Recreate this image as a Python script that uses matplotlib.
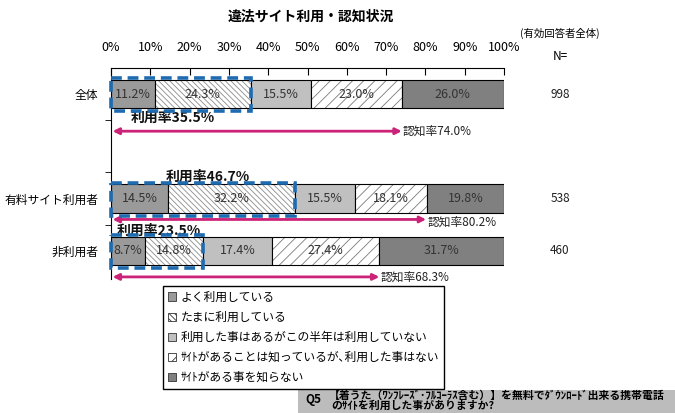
import matplotlib
matplotlib.use('Agg')
import matplotlib.pyplot as plt
from matplotlib.patches import Rectangle, Patch

plt.rcParams['font.family'] = ['Noto Sans CJK JP', 'DejaVu Sans']
plt.rcParams['hatch.linewidth'] = 0.6

# data
groups = ['全体', '有料サイト利用者', '非利用者']
n_counts = [998, 538, 460]
series = ['よく利用している',
          'たまに利用している',
          '利用した事はあるがこの半年は利用していない',
          'ｻｲﾄがあることは知っているが､利用した事はない',
          'ｻｲﾄがある事を知らない']
often = [11.2, 14.5, 8.7]
sometimes = [24.3, 32.2, 14.8]
lapsed = [15.5, 15.5, 17.4]
aware_only = [23.0, 18.1, 27.4]
unaware = [26.0, 19.8, 31.7]
xticks = [0, 10, 20, 30, 40, 50, 60, 70, 80, 90, 100]

# layout (slot 1 is an empty row in the original sheet)
slots = [0, 2, 3]
bar_h = 0.54
styles = [
    dict(fc='#9a9a9a', hc='#9a9a9a', hatch=None),
    dict(fc='white', hc='#8c8c8c', hatch='\\\\\\\\\\\\'),
    dict(fc='#c0c0c0', hc='#c0c0c0', hatch=None),
    dict(fc='white', hc='#7a7a7a', hatch='///'),
    dict(fc='#808080', hc='#808080', hatch=None),
]
use_lbl_off = [(5.0, 0.46), (13.8, -0.42), (1.5, -0.38)]
arrow_off = [0.71, 0.40, 0.50]
aware_lbl_dy = [0.0, 0.06, 0.0]
blue = '#1f6bb0'
magenta = '#cc2277'

fig = plt.figure(figsize=(6.75, 4.13), dpi=100)
ax = fig.add_axes([111/675, 1-279/413, (504-111)/675, (279-68)/413])
ax.set_xlim(0, 100)
ax.set_ylim(3.54, -0.5)

all_vals = [often, sometimes, lapsed, aware_only, unaware]
left = [0.0, 0.0, 0.0]
for vals, st in zip(all_vals, styles):
    ax.barh(slots, vals, left=left, height=bar_h, color=st['fc'],
            edgecolor=st['hc'], hatch=st['hatch'], linewidth=0)
    ax.barh(slots, vals, left=left, height=bar_h, fill=False,
            edgecolor='black', linewidth=0.8)
    for y, l, v in zip(slots, left, vals):
        ax.text(l + v/2, y, f'{v:.1f}%', ha='center', va='center',
                fontsize=9, color='#333333')
    left = [l + v for l, v in zip(left, vals)]

for i, y in enumerate(slots):
    usage = often[i] + sometimes[i]
    aware = 100 - unaware[i]
    ax.add_patch(Rectangle((0, y - 0.3), usage, 0.63, fill=False,
                           edgecolor=blue, lw=2.6, linestyle=(0, (3, 1.6)),
                           clip_on=False, zorder=5))
    dx, dy = use_lbl_off[i]
    ax.text(dx, y + dy, f'利用率{usage:.1f}%', ha='left', va='center',
            fontsize=10, fontweight='bold', color='#111111')
    ya = y + arrow_off[i]
    ax.annotate('', xy=(aware, ya), xytext=(0.4, ya),
                arrowprops=dict(arrowstyle='<|-|>', color=magenta, lw=2,
                                mutation_scale=9, shrinkA=0, shrinkB=0),
                annotation_clip=False)
    ax.text(aware + 0.3, ya + aware_lbl_dy[i], f'認知率{aware:.1f}%',
            ha='left', va='center', fontsize=8.5, color='#222222')
    ax.text(1.1425, y, str(n_counts[i]), transform=ax.get_yaxis_transform(),
            ha='center', va='center', fontsize=8.5, color='#222222')

ax.xaxis.tick_top()
ax.set_xticks(xticks, [f'{v}%' for v in xticks])
ax.tick_params(axis='x', direction='in', length=5, pad=10, labelsize=9)
ax.set_yticks(slots, groups)
ax.tick_params(axis='y', which='major', length=0, pad=9, labelsize=8.5)
ax.set_yticks([0.5, 1.5, 2.5], minor=True)
ax.tick_params(axis='y', which='minor', length=4, direction='out')
ax.spines['right'].set_visible(False)
ax.spines['bottom'].set_visible(False)

fig.text(311/675, 1-17/413, '違法サイト利用・認知状況', ha='center',
         va='center', fontsize=10, fontweight='bold')
fig.text(560/675, 1-33/413, '(有効回答者全体)', ha='center', va='center',
         fontsize=7.5)
fig.text(560/675, 1-57/413, 'N=', ha='center', va='center', fontsize=8.5)

handles = [Patch(facecolor=st['fc'], edgecolor='#333333',
                 hatch=st['hatch'], linewidth=0.6) for st in styles]
leg = fig.legend(handles, series, loc='upper left',
                 bbox_to_anchor=(163/675, 1-286/413), frameon=True,
                 fancybox=False, edgecolor='black', framealpha=1,
                 fontsize=8.5, handlelength=0.7, handleheight=0.7,
                 handletextpad=0.4, labelspacing=0.6, borderpad=0.4,
                 borderaxespad=0)
leg.get_frame().set_linewidth(1)

fig.patches.append(Rectangle((298/675, 0), 1 - 298/675, 23/413,
                             transform=fig.transFigure, facecolor='#bcbcbc',
                             edgecolor='none'))
fig.text(305/675, 1-400/413, 'Q5', ha='left', va='center', fontsize=8.5,
         fontweight='bold')
fig.text(329/675, 1-396/413, '【着うた（ﾜﾝﾌﾚｰｽﾞ･ﾌﾙｺｰﾗｽ含む）】を無料でﾀﾞｳﾝﾛｰﾄﾞ出来る携帯電話',
         ha='left', va='center', fontsize=7.8, fontweight='bold')
fig.text(331/675, 1-406/413, 'のｻｲﾄを利用した事がありますか?',
         ha='left', va='center', fontsize=7.8, fontweight='bold')

fig.savefig('out.png', dpi=100)
